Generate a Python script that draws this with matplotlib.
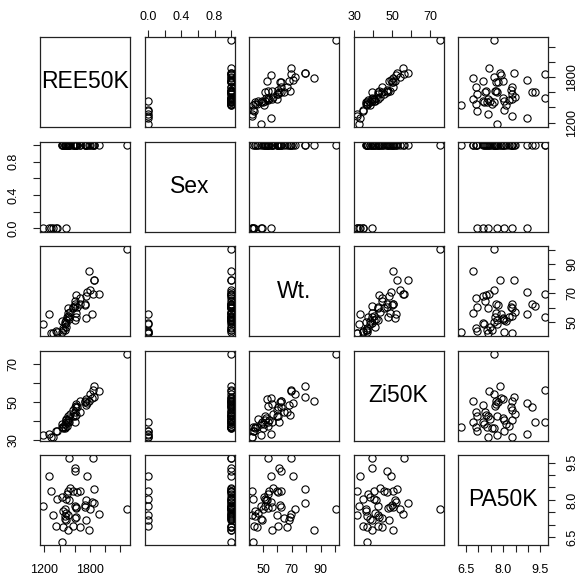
import numpy as np
import matplotlib.pyplot as plt

plt.rcParams['font.family'] = ['Liberation Sans', 'DejaVu Sans']

# one row per subject
ree = [1521, 1839, 1600, 1600, 1761, 1260, 1282, 1543, 1513, 1578, 1630, 1848,
       1665, 1500, 1426, 1360, 1491, 1521, 1752, 1826, 1730, 1622, 1613, 1739,
       1805, 1848, 1913, 1186, 1600, 1469, 1447, 1317, 1469, 1469, 1482, 1622,
       1600, 1491, 1513, 1744, 1351, 1447, 1578, 1665, 1787, 1513, 1434, 2284]
sex = [1, 1, 1, 1, 1, 0, 0, 1, 1, 1, 1, 1,
       1, 1, 1, 0, 1, 1, 1, 1, 1, 1, 1, 1,
       1, 1, 1, 0, 1, 1, 1, 0, 1, 1, 0, 1,
       1, 1, 1, 1, 0, 1, 1, 1, 1, 1, 1, 1]
wt = [53.6, 69.8, 61.4, 62.4, 70.9, 55.5, 42.6, 57.1, 54.3, 59.5, 60.7, 79.0,
      62.6, 53.6, 50.7, 42.8, 51.7, 52.4, 52.9, 55.9, 61.9, 56.4, 53.6, 62.6,
      71.9, 79.0, 69.6, 48.8, 51.2, 50.0, 44.6, 42.6, 44.8, 48.8, 49.5, 69.0,
      64.3, 46.4, 59.5, 68.3, 44.0, 45.7, 60.7, 66.7, 85.7, 56.4, 43.0, 100.5]
zi = [39.6, 56.5, 39.3, 47.2, 49.5, 33.2, 31.7, 43.7, 40.7, 45.9, 47.2, 52.8,
      50.7, 37.2, 38.4, 34.9, 40.2, 41.6, 51.6, 52.1, 49.8, 48.9, 47.7, 50.2,
      54.2, 58.6, 55.6, 32.6, 42.5, 36.2, 36.2, 31.4, 36.7, 38.4, 39.3, 43.3,
      44.6, 41.1, 42.8, 48.1, 34.9, 36.7, 42.8, 44.9, 50.4, 39.6, 36.7, 75.3]
pa = [9.67, 9.67, 9.30, 9.16, 8.94, 8.96, 8.36, 8.47, 8.34, 8.34, 8.32, 8.42,
      8.34, 8.23, 8.12, 8.03, 8.03, 7.99, 7.99, 7.90, 7.79, 7.72, 7.66, 7.72,
      7.63, 7.86, 7.43, 7.74, 7.74, 7.63, 7.54, 7.39, 7.34, 7.23, 7.19, 7.32,
      7.26, 7.46, 7.40, 7.19, 6.96, 6.90, 6.96, 6.92, 6.79, 6.79, 6.32, 7.63]

names = ['REE50K', 'Sex', 'Wt.', 'Zi50K', 'PA50K']
ree_ticks = [1200, 1400, 1600, 1800, 2000, 2200]
ree_labels = ['1200', '', '', '1800', '', '']
sex_ticks = [0.0, 0.2, 0.4, 0.6, 0.8, 1.0]
sex_labels = ['0.0', '', '0.4', '', '0.8', '']
wt_ticks = [50, 60, 70, 80, 90, 100]
wt_labels = ['50', '', '70', '', '90', '']
zi_ticks = [30, 40, 50, 60, 70]
zi_labels = ['30', '', '50', '', '70']
pa_ticks = [6.5, 7.0, 7.5, 8.0, 8.5, 9.0, 9.5]
pa_labels = ['6.5', '', '', '8.0', '', '', '9.5']

data = [np.array(v, dtype=float) for v in (ree, sex, wt, zi, pa)]
ticks = [ree_ticks, sex_ticks, wt_ticks, zi_ticks, pa_ticks]
labels = [ree_labels, sex_labels, wt_labels, zi_labels, pa_labels]


def limits(v):
    r = v.max() - v.min()
    return v.min() - 0.04 * r, v.max() + 0.04 * r


W, H = 578, 581
x0, y0, step, size = 40, 37, 104.5, 90
n = len(names)

fig = plt.figure(figsize=(W / 100, H / 100), dpi=100)

for i in range(n):
    for j in range(n):
        left = (x0 + j * step) / W
        bottom = 1 - (y0 + i * step + size) / H
        ax = fig.add_axes([left, bottom, size / W, size / H])
        ax.set_xlim(limits(data[j]))
        ax.set_ylim(limits(data[i]))
        for s in ax.spines.values():
            s.set_linewidth(0.9)
            s.set_color('#222222')

        if i == j:
            ax.text(0.5, 0.5, names[i], transform=ax.transAxes,
                    ha='center', va='center', fontsize=16.5)
        else:
            ax.plot(data[j], data[i], 'o', mfc='none', mec='black',
                    ms=5.2, mew=0.8, ls='none')

        ax.set_xticks([])
        ax.set_yticks([])
        tp = dict(direction='out', length=5, width=0.8, labelsize=9,
                  color='#222222')

        if i == 0 and j % 2 == 1:
            ax.set_xticks(ticks[j])
            ax.set_xticklabels(labels[j])
            ax.xaxis.tick_top()
            ax.tick_params(axis='x', pad=5, **tp)
        if i == n - 1 and j % 2 == 0:
            ax.set_xticks(ticks[j])
            ax.set_xticklabels(labels[j])
            ax.tick_params(axis='x', pad=9, **tp)
        if j == n - 1 and i % 2 == 0:
            ax.set_yticks(ticks[i])
            ax.set_yticklabels(labels[i], rotation=90, va='center')
            ax.yaxis.tick_right()
            ax.tick_params(axis='y', pad=8, **tp)
        if j == 0 and i % 2 == 1:
            ax.set_yticks(ticks[i])
            ax.set_yticklabels(labels[i], rotation=90, va='center')
            ax.tick_params(axis='y', pad=10, **tp)

fig.savefig('out.png', dpi=100)
